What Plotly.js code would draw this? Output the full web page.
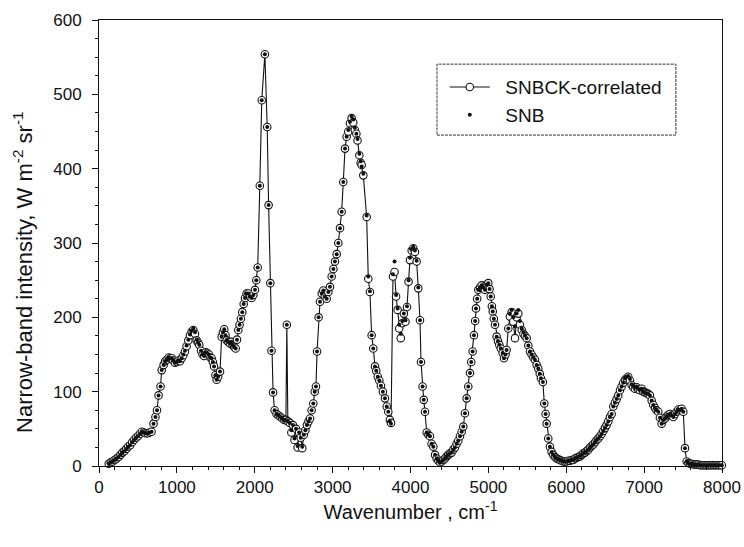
<!DOCTYPE html>
<html><head><meta charset="utf-8">
<script src="https://cdn.plot.ly/plotly-3.0.1.min.js"></script>
<style>html,body{margin:0;padding:0;background:#fff}#chart{width:744px;height:547px}</style>
</head><body><div id="chart"></div>
<script>
// Wavenumber (cm^-1) of each narrow band
var wavenumber = [
 125,150,175,200,225,250,275,300,325,350,
 375,400,425,450,475,500,525,550,575,600,
 625,650,675,700,725,745,765,790,805,830,
 850,870,895,915,935,955,975,1000,1020,1040,
 1062,1083,1104,1125,1147,1168,1190,1211,1233,1254,
 1271,1288,1310,1330,1350,1370,1390,1410,1430,1447,
 1462,1477,1495,1511,1530,1554,1575,1592,1609,1625,
 1640,1660,1682,1700,1718,1737,1755,1772,1789,1805,
 1822,1840,1858,1875,1895,1917,1938,1960,1982,2003,
 2020,2038,2065,2090,2130,2160,2178,2200,2215,2235,
 2255,2280,2305,2330,2355,2380,2400,2412,2425,2450,
 2470,2490,2510,2530,2550,2570,2590,2610,2630,2650,
 2670,2690,2710,2730,2752,2770,2786,2800,2820,2838,
 2860,2880,2900,2924,2945,2966,2988,3010,3030,3052,
 3073,3095,3116,3137,3159,3180,3201,3223,3244,3265,
 3285,3305,3320,3343,3360,3373,3394,3437,3458,3479,
 3501,3522,3544,3560,3580,3600,3620,3645,3672,3695,
 3715,3735,3750,3775,3795,3815,3835,3855,3875,3895,
 3915,3935,3955,3975,3993,4015,4036,4057,4079,4100,
 4122,4135,4155,4170,4186,4208,4230,4250,4270,4293,
 4315,4336,4357,4378,4400,4421,4443,4464,4485,4507,
 4528,4550,4571,4592,4613,4635,4657,4678,4699,4721,
 4742,4764,4780,4798,4815,4830,4841,4856,4871,4893,
 4914,4935,4956,4978,4999,5015,5030,5045,5056,5070,
 5085,5106,5123,5140,5160,5183,5200,5220,5234,5256,
 5277,5299,5320,5342,5363,5384,5405,5428,5450,5470,
 5492,5513,5534,5555,5577,5598,5620,5641,5660,5675,
 5700,5718,5735,5748,5769,5790,5812,5833,5855,5877,
 5898,5919,5940,5962,5983,6005,6026,6048,6069,6090,
 6112,6133,6155,6176,6198,6219,6240,6262,6283,6305,
 6326,6347,6369,6390,6412,6433,6455,6476,6497,6518,
 6540,6561,6583,6604,6625,6647,6668,6690,6711,6732,
 6754,6775,6796,6818,6839,6860,6882,6903,6925,6946,
 6968,6989,7010,7032,7053,7075,7097,7118,7140,7160,
 7182,7203,7225,7246,7268,7290,7311,7332,7353,7375,
 7397,7418,7440,7461,7482,7503,7525,7547,7568,7590,
 7611,7633,7654,7676,7697,7719,7740,7762,7783,7805,
 7826,7848,7869,7890,7912,7933,7955,7976,7998
];
// SNBCK-correlated narrow-band intensity (W m^-2 sr^-1)
var snbck = [
 3,5,6,8,10,12,15,18,20,23,
 26,28,32,35,38,40,43,46,45,44,
 44,45,46,57,66,75,95,107,129,136,
 141,143,146,145,145,142,139,140,142,141,
 145,149,154,161,169,176,181,183,178,169,
 166,163,155,150,148,153,152,150,146,145,
 140,134,122,116,120,127,174,180,184,176,
 169,167,165,167,162,160,158,170,183,190,
 198,207,218,226,232,232,228,226,230,237,
 250,267,377,492,554,456,351,246,155,99,
 75,70,68,66,64,62,62,190,60,58,
 45,55,35,50,25,45,38,24,42,48,
 55,60,64,75,84,100,107,154,200,221,
 232,236,228,225,234,241,255,265,275,285,
 300,320,342,382,427,443,450,461,468,462,
 452,447,438,418,408,405,391,335,252,234,
 176,158,134,128,120,115,108,100,91,80,
 73,62,58,255,261,228,210,185,172,192,
 205,194,214,248,277,290,293,288,275,239,
 196,140,107,89,73,45,42,40,30,26,
 15,10,7,5,6,8,10,13,15,17,
 18,22,25,30,34,40,46,53,71,91,
 107,125,140,154,176,195,212,225,237,240,
 243,240,237,244,246,238,228,215,208,198,
 190,174,168,163,158,152,145,150,156,185,
 201,207,194,172,200,205,190,183,178,175,
 172,162,154,150,146,143,136,131,124,118,
 113,84,70,57,37,26,19,15,12,10,
 9,8,7,6,6,6,7,7,8,8,
 10,11,12,13,15,17,18,20,22,25,
 27,29,32,35,37,40,43,47,51,55,
 60,66,70,80,85,90,95,102,107,112,
 116,118,120,115,109,106,104,106,103,102,
 104,100,99,98,97,95,88,82,78,75,
 73,65,57,62,64,67,69,70,68,66,
 70,73,76,75,77,73,24,6,4,3,
 3,2,2,2,2,1,1,1,1,1,
 1,1,1,1,1,1,1,1,1
];
// SNB narrow-band intensity (W m^-2 sr^-1)
var snb = [
 3,5,6,8,10,12,15,18,20,23,
 26,28,32,35,38,40,43,46,45,44,
 44,45,46,57,66,75,95,107,129,136,
 141,143,146,145,145,142,139,140,142,141,
 145,150,155,162,170,177,182,185,180,170,
 166,163,155,150,148,153,152,150,146,145,
 140,134,122,116,120,127,174,180,184,176,
 169,167,165,167,162,160,158,170,183,190,
 198,207,218,226,232,232,228,226,230,237,
 250,267,377,492,554,456,351,246,155,99,
 75,70,68,66,64,62,62,190,60,58,
 48,55,37,50,27,45,38,26,42,48,
 55,60,64,75,84,100,107,154,200,221,
 232,236,228,225,234,241,255,265,275,285,
 300,320,342,382,427,443,452,463,470,466,
 455,447,440,420,410,403,393,337,255,235,
 176,158,134,128,120,115,108,100,91,80,
 73,60,57,258,275,230,212,190,178,195,
 205,196,215,250,280,292,295,290,276,240,
 196,140,107,89,73,45,42,40,30,26,
 15,10,7,5,6,8,10,13,15,17,
 18,22,25,30,34,40,46,53,71,91,
 107,125,140,154,176,195,212,225,237,240,
 243,240,237,244,246,238,228,215,208,198,
 190,174,168,163,158,152,145,150,156,185,
 205,210,200,188,205,210,195,185,180,176,
 172,162,154,150,146,143,136,131,124,118,
 113,84,70,57,37,26,19,15,12,10,
 9,8,7,6,6,6,7,7,8,8,
 10,11,12,13,15,17,18,20,22,25,
 27,29,32,35,37,40,43,47,51,55,
 60,66,70,80,85,90,95,102,107,112,
 118,120,121,117,110,108,106,107,104,103,
 104,100,99,98,97,95,88,82,78,75,
 73,65,57,62,64,67,69,70,68,66,
 70,73,76,75,77,73,24,6,4,3,
 3,2,2,2,2,1,1,1,1,1,
 1,1,1,1,1,1,1,1,1
];
var seriesNames = ['SNBCK-correlated', 'SNB'];
var xTitle = 'Wavenumber , cm<sup>-1</sup>';
var yTitle = 'Narrow-band intensity, W m<sup>-2</sup> sr<sup>-1</sup>';

var FONT = 'Liberation Sans, Arial, Helvetica, sans-serif';
var INK = '#111';
var PAD = '\u00A0\u00A0';

var traces = [
  {x: wavenumber, y: snbck, type: 'scatter', mode: 'lines+markers', name: PAD + seriesNames[0],
   legendgroup: 'a', cliponaxis: false,
   line: {color: INK, width: 1.1},
   marker: {symbol: 'circle', size: 7.5, color: '#fff', line: {color: INK, width: 1.1}}},
  {x: wavenumber, y: snb, type: 'scatter', mode: 'markers', name: PAD + seriesNames[1],
   legendgroup: 'b', cliponaxis: false,
   marker: {symbol: 'circle', size: 4, color: INK}}
];

var axisCommon = {
  showline: true, linecolor: INK, linewidth: 1, mirror: true,
  showgrid: false, zeroline: false,
  ticks: 'outside', ticklen: 6, tickwidth: 1, tickcolor: INK,
  tickfont: {family: FONT, size: 17, color: INK}
};

var layout = {
  width: 744, height: 547,
  margin: {l: 99, r: 22, t: 20, b: 81},
  paper_bgcolor: '#fff', plot_bgcolor: '#fff',
  font: {family: FONT, size: 17, color: INK},
  showlegend: true,
  legend: {x: 0.555, y: 0.892, xanchor: 'left', yanchor: 'top', itemwidth: 40,
           bgcolor: 'rgba(0,0,0,0)', borderwidth: 0,
           tracegroupgap: 0, font: {family: FONT, size: 19, color: INK}},
  xaxis: Object.assign({}, axisCommon, {
    range: [0, 8000], tick0: 0, dtick: 1000,
    minor: {dtick: 200, ticks: 'outside', ticklen: 3, tickcolor: INK},
    title: {text: xTitle, font: {family: FONT, size: 20, color: INK}, standoff: 8}
  }),
  yaxis: Object.assign({}, axisCommon, {
    range: [0, 600], tick0: 0, dtick: 100, ticklabelstandoff: 7,
    minor: {dtick: 25, ticks: 'outside', ticklen: 3, tickcolor: INK}
  }),
  annotations: [{text: yTitle, xref: 'paper', yref: 'paper', x: -0.122, y: 0.435,
                 xanchor: 'center', yanchor: 'middle', textangle: -90, showarrow: false,
                 font: {family: FONT, size: 22, color: INK}}],
  shapes: [{type: 'rect', xref: 'paper', yref: 'paper',
            x0: 0.5425, x1: 0.926, y0: 0.742, y1: 0.901,
            line: {color: '#333', width: 1, dash: '3px,1px'}, fillcolor: 'rgba(0,0,0,0)'}]
};

Plotly.newPlot('chart', traces, layout, {displayModeBar: false, staticPlot: true});
</script>
</body></html>
